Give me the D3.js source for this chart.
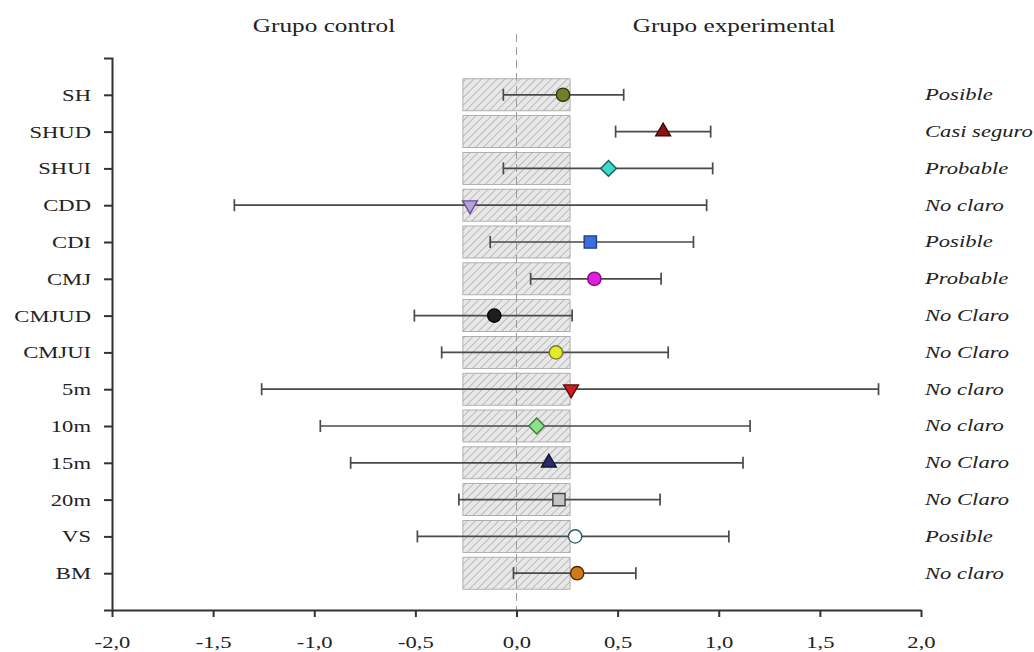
<!DOCTYPE html>
<html>
<head>
<meta charset="utf-8">
<script src="https://cdn.jsdelivr.net/npm/d3@7"></script>
<style>
  body { margin: 0; background: #fff; }
  text { font-family: "Liberation Serif", "Times New Roman", serif; fill: #222; }
</style>
</head>
<body>
<div class="chart"></div>
<script>
// data
var categories = ["SH", "SHUD", "SHUI", "CDD", "CDI", "CMJ", "CMJUD", "CMJUI", "5m", "10m", "15m", "20m", "VS", "BM"];
var effect = [0.23, 0.725, 0.455, -0.23, 0.365, 0.385, -0.11, 0.195, 0.27, 0.10, 0.16, 0.21, 0.29, 0.30];
var ciLow = [-0.065, 0.49, -0.065, -1.395, -0.13, 0.07, -0.505, -0.37, -1.26, -0.97, -0.82, -0.285, -0.49, -0.015];
var ciHigh = [0.53, 0.96, 0.97, 0.94, 0.875, 0.715, 0.275, 0.75, 1.79, 1.155, 1.12, 0.71, 1.05, 0.59];
var inference = ["Posible", "Casi seguro", "Probable", "No claro", "Posible", "Probable", "No Claro", "No Claro", "No claro", "No claro", "No Claro", "No Claro", "Posible", "No claro"];
var swcLow = -0.265, swcHigh = 0.265;
var xTicks = [-2, -1.5, -1, -0.5, 0, 0.5, 1, 1.5, 2];
var groupLabels = ["Grupo control", "Grupo experimental"];

// marker look per category
var markerStyle = {
  "SH":    {shape: "circle",   fill: "#6f7f2a", stroke: "#2f3a10"},
  "SHUD":  {shape: "triUp",    fill: "#8b1515", stroke: "#3a0808"},
  "SHUI":  {shape: "diamond",  fill: "#3fd9c9", stroke: "#1a5a55"},
  "CDD":   {shape: "triDown",  fill: "#b7a2d6", stroke: "#6a4a9a"},
  "CDI":   {shape: "square",   fill: "#3a6fe0", stroke: "#223d80"},
  "CMJ":   {shape: "circle",   fill: "#e01fe0", stroke: "#7a107a"},
  "CMJUD": {shape: "circle",   fill: "#1e1e1e", stroke: "#000"},
  "CMJUI": {shape: "circle",   fill: "#e4ea2c", stroke: "#7a7a20"},
  "5m":    {shape: "triDown",  fill: "#cc1f1f", stroke: "#5a0a0a"},
  "10m":   {shape: "diamond",  fill: "#8ee08e", stroke: "#3a7a3a"},
  "15m":   {shape: "triUp",    fill: "#2a2a66", stroke: "#111133"},
  "20m":   {shape: "square",   fill: "#c4c4c4", stroke: "#444"},
  "VS":    {shape: "circle",   fill: "#ffffff", stroke: "#2a5a5a"},
  "BM":    {shape: "circle",   fill: "#d07a1a", stroke: "#4a2a08"}
};

var svgWidth = 1034;
var svgHeight = 652;
var stretchX = 1.33; // text in the picture is wider than the font

var svg = d3.select(".chart")
  .append("svg")
  .attr("width", svgWidth)
  .attr("height", svgHeight);

var defs = svg.append("defs");
var hatch = defs.append("pattern")
  .attr("id", "hatch")
  .attr("patternUnits", "userSpaceOnUse")
  .attr("width", 5.5)
  .attr("height", 5.5)
  .attr("patternTransform", "rotate(45)");
hatch.append("rect").attr("width", 5.5).attr("height", 5.5).attr("fill", "#e8e8e8");
hatch.append("line")
  .attr("x1", 0).attr("y1", 0).attr("x2", 0).attr("y2", 5.5)
  .attr("stroke", "#a2a2a2").attr("stroke-width", 1.3);

var x = d3.scaleLinear().domain([-2, 2]).range([112, 921]);
var y = d3.scaleLinear().domain([0, categories.length + 1]).range([610, 58]);
var rowY = function(i) { return y(categories.length - i); };

function stretch(sel) {
  sel.each(function() {
    var t = d3.select(this);
    var tx = +t.attr("x") || 0;
    t.attr("x", tx / stretchX)
      .attr("transform", (t.attr("transform") || "") + " scale(" + stretchX + ",1)");
  });
}

// smallest worthwhile change boxes
svg.append("g").selectAll("rect")
  .data(categories)
  .enter()
  .append("rect")
  .attr("x", x(swcLow))
  .attr("width", x(swcHigh) - x(swcLow))
  .attr("y", (d, i) => rowY(i) - 16)
  .attr("height", 32)
  .attr("fill", "url(#hatch)")
  .attr("stroke", "#a0a0a0")
  .attr("stroke-width", 0.8);

// zero line
svg.append("line")
  .attr("x1", x(0)).attr("x2", x(0))
  .attr("y1", 34).attr("y2", 610)
  .attr("stroke", "#9a9a9a")
  .attr("stroke-width", 1)
  .attr("stroke-dasharray", "8,5");

// axes
var bottomAxis = d3.axisBottom(x)
  .tickValues(xTicks)
  .tickSize(7)
  .tickSizeOuter(0)
  .tickPadding(19)
  .tickFormat(d => d3.format(".1f")(d).replace(".", ",").replace("−", "-"));

var gx = svg.append("g")
  .attr("transform", "translate(0,610)")
  .call(bottomAxis);
gx.select(".domain").attr("stroke", "#333").attr("stroke-width", 2);
gx.selectAll(".tick line").attr("stroke", "#333").attr("stroke-width", 2);
gx.selectAll(".tick text").attr("font-size", 17).attr("fill", "#222");
stretch(gx.selectAll(".tick text"));

var leftAxis = d3.axisLeft(y)
  .tickValues(d3.range(1, categories.length + 1))
  .tickSize(8)
  .tickSizeOuter(8)
  .tickPadding(13)
  .tickFormat(d => categories[categories.length - d]);

var gy = svg.append("g")
  .attr("transform", "translate(112,0)")
  .call(leftAxis);
gy.select(".domain").attr("stroke", "#333").attr("stroke-width", 2);
gy.selectAll(".tick line").attr("stroke", "#333").attr("stroke-width", 2);
gy.selectAll(".tick text").attr("font-size", 17).attr("fill", "#222");
stretch(gy.selectAll(".tick text"));

// error bars
var bars = svg.append("g").selectAll("g")
  .data(categories)
  .enter()
  .append("g");

bars.append("line")
  .attr("x1", (d, i) => x(ciLow[i]))
  .attr("x2", (d, i) => x(ciHigh[i]))
  .attr("y1", (d, i) => rowY(i))
  .attr("y2", (d, i) => rowY(i))
  .attr("stroke", "#4a4a4a")
  .attr("stroke-width", 1.7);

[ciLow, ciHigh].forEach(function(arr) {
  bars.append("line")
    .attr("x1", (d, i) => x(arr[i]))
    .attr("x2", (d, i) => x(arr[i]))
    .attr("y1", (d, i) => rowY(i) - 6)
    .attr("y2", (d, i) => rowY(i) + 6)
    .attr("stroke", "#4a4a4a")
    .attr("stroke-width", 1.7);
});

// point estimates
var shapes = {
  circle: {type: d3.symbolCircle, size: 140, rot: 0},
  triUp: {type: d3.symbolTriangle, size: 95, rot: 0},
  triDown: {type: d3.symbolTriangle, size: 95, rot: 180},
  diamond: {type: d3.symbolSquare, size: 125, rot: 45},
  square: {type: d3.symbolSquare, size: 150, rot: 0}
};

bars.append("path")
  .attr("d", d => d3.symbol().type(shapes[markerStyle[d].shape].type).size(shapes[markerStyle[d].shape].size)())
  .attr("transform", (d, i) => "translate(" + x(effect[i]) + "," + rowY(i) + ") rotate(" + shapes[markerStyle[d].shape].rot + ")")
  .attr("fill", d => markerStyle[d].fill)
  .attr("stroke", d => markerStyle[d].stroke)
  .attr("stroke-width", 1.4);

// inference labels
var inf = svg.append("g").selectAll("text")
  .data(inference)
  .enter()
  .append("text")
  .attr("x", 925)
  .attr("y", (d, i) => rowY(i))
  .attr("dy", "0.32em")
  .attr("font-size", 17)
  .attr("font-style", "italic")
  .attr("fill", "#2a2a2a")
  .text(d => d);
stretch(inf);

// group headers
var heads = svg.append("g").selectAll("text")
  .data(groupLabels)
  .enter()
  .append("text")
  .attr("x", (d, i) => i == 0 ? 324 : 734)
  .attr("y", 32)
  .attr("text-anchor", "middle")
  .attr("font-size", 19)
  .text(d => d);
stretch(heads);
</script>
</body>
</html>
